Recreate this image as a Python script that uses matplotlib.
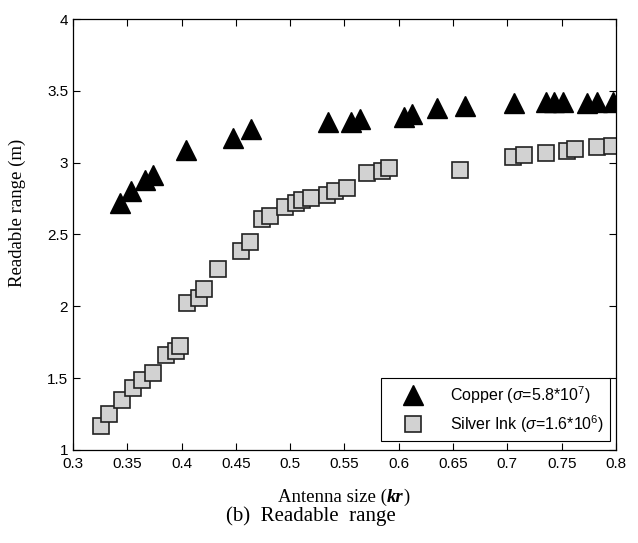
import matplotlib
matplotlib.use("Agg")
import matplotlib.pyplot as plt

plt.rcParams["font.family"] = ["Liberation Sans", "DejaVu Sans"]
plt.rcParams["mathtext.fontset"] = "custom"
plt.rcParams["mathtext.rm"] = "Liberation Sans"
plt.rcParams["mathtext.it"] = "Liberation Sans:italic"

# copper (triangles)
copper_kr = [0.343, 0.353, 0.366, 0.374, 0.404, 0.447, 0.464, 0.535, 0.556,
             0.564, 0.605, 0.612, 0.635, 0.661, 0.706, 0.736, 0.743, 0.751,
             0.773, 0.783, 0.797]
copper_range = [2.72, 2.805, 2.877, 2.912, 3.086, 3.174, 3.234, 3.283, 3.283,
                3.306, 3.32, 3.34, 3.378, 3.394, 3.413, 3.42, 3.42, 3.42,
                3.415, 3.42, 3.425]

# silver ink (squares)
silver_kr = [0.326, 0.333, 0.345, 0.355, 0.364, 0.374, 0.386, 0.395, 0.399,
             0.405, 0.416, 0.421, 0.434, 0.455, 0.463, 0.474, 0.481, 0.495,
             0.505, 0.511, 0.519, 0.534, 0.541, 0.552, 0.571, 0.585, 0.591,
             0.656, 0.705, 0.715, 0.736, 0.755, 0.762, 0.783, 0.796]
silver_range = [1.17, 1.249, 1.349, 1.434, 1.488, 1.539, 1.662, 1.69, 1.724,
                2.022, 2.061, 2.119, 2.26, 2.388, 2.45, 2.608, 2.631, 2.694,
                2.722, 2.74, 2.752, 2.775, 2.803, 2.826, 2.93, 2.944, 2.965,
                2.949, 3.042, 3.051, 3.07, 3.083, 3.093, 3.111, 3.118]

x_ticks = [0.3, 0.35, 0.4, 0.45, 0.5, 0.55, 0.6, 0.65, 0.7, 0.75, 0.8]
x_labels = ["0.3", "0.35", "0.4", "0.45", "0.5", "0.55", "0.6", "0.65", "0.7", "0.75", "0.8"]
y_ticks = [1, 1.5, 2, 2.5, 3, 3.5, 4]
y_labels = ["1", "1.5", "2", "2.5", "3", "3.5", "4"]

fig = plt.figure(figsize=(6.38, 5.43), dpi=100)
ax = fig.add_axes([0.1144, 0.1713, 0.851, 0.7937])

ax.plot(copper_kr, copper_range, linestyle="none", marker="^", markersize=14,
        markerfacecolor="black", markeredgecolor="black",
        label=r"Copper ($\sigma$=5.8*10$^7$)")
ax.plot(silver_kr, silver_range, linestyle="none", marker="s", markersize=11,
        markerfacecolor="#d2d2d2", markeredgecolor="#222222", markeredgewidth=1.2,
        label=r"Silver Ink ($\sigma$=1.6*10$^6$)")

ax.set_xlim(0.3, 0.8)
ax.set_ylim(1, 4)
ax.set_xticks(x_ticks)
ax.set_xticklabels(x_labels)
ax.set_yticks(y_ticks)
ax.set_yticklabels(y_labels)
ax.tick_params(direction="in", top=True, right=True, length=5, labelsize=11, width=0.8)
ax.tick_params(axis="x", pad=5)
for s in ax.spines.values():
    s.set_linewidth(0.9)

# x label: "Antenna size (" + bold italic "kr" + ")", pieces placed side by side
serif = "Liberation Serif"
fig.canvas.draw()
rend = fig.canvas.get_renderer()
lab_y = 0.084
parts = [("Antenna size (", "normal", "normal"), ("kr", "bold", "italic"), (")", "normal", "normal")]
texts = []
for s, w, st in parts:
    texts.append(fig.text(0, lab_y, s, fontsize=13.5, family=serif, fontweight=w,
                          fontstyle=st, ha="left", va="center"))
widths = [t.get_window_extent(rend).width / fig.bbox.width for t in texts]
x0 = 0.539 - sum(widths) / 2
for t, w in zip(texts, widths):
    t.set_x(x0)
    x0 += w

ax.set_ylabel("Readable range (m)", fontsize=13.5, family=serif)
ax.yaxis.set_label_coords(-0.087, 0.55)

fig.text(0.487, 0.049, "(b)  Readable  range", fontsize=15,
         family=serif, ha="center", va="center")

leg = ax.legend(loc="lower right", bbox_to_anchor=(0.99, 0.02), borderaxespad=0,
                fontsize=11.5, fancybox=False, edgecolor="black", framealpha=1,
                handletextpad=0.75, borderpad=0.4, labelspacing=0.45,
                handlelength=3.2)
leg.get_frame().set_linewidth(0.8)

fig.savefig("out.png", dpi=100)
